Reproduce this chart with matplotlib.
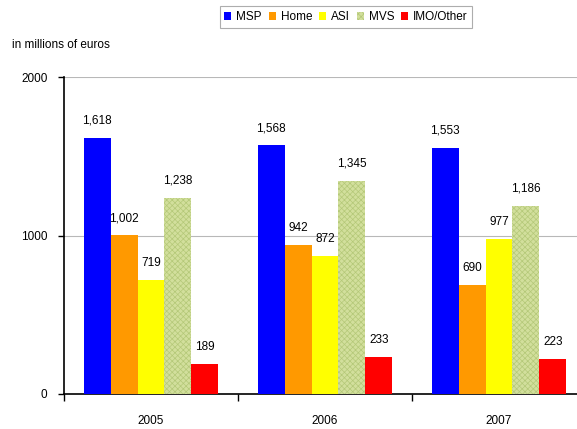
import matplotlib.pyplot as plt
import numpy as np

plt.rcParams['font.family'] = ['Liberation Sans Narrow', 'Liberation Sans', 'DejaVu Sans']
plt.rcParams['hatch.linewidth'] = 0.5

years = ['2005', '2006', '2007']
segments = ['MSP', 'Home', 'ASI', 'MVS', 'IMO/Other']
msp = [1618, 1568, 1553]
home = [1002, 942, 690]
asi = [719, 872, 977]
mvs = [1238, 1345, 1186]
imo = [189, 233, 223]
colors = ['#0000ff', '#ff9900', '#ffff00', '#d2df9c', '#ff0000']

series = [msp, home, asi, mvs, imo]

fig = plt.figure(figsize=(5.77, 4.29), dpi=100)
ax = fig.add_axes([64 / 577, 35 / 429, 522 / 577, 317 / 429])

x = np.arange(len(years))
w = 0.155
for i, (name, vals, c) in enumerate(zip(segments, series, colors)):
    pos = x + (i - 2) * w
    if name == 'MVS':
        bars = ax.bar(pos, vals, w, color=c, edgecolor='#b4c878', hatch='xxxxxx',
                      linewidth=0, label=name, zorder=3)
    else:
        bars = ax.bar(pos, vals, w, color=c, linewidth=0, label=name, zorder=3)
    for b, v in zip(bars, vals):
        ax.annotate(f'{v:,}', (b.get_x() + b.get_width() / 2, v),
                    xytext=(0, 8), textcoords='offset points',
                    ha='center', va='bottom', fontsize=8.5)

ax.set_ylim(0, 2000)
ax.set_xlim(-0.5, 2.5)
ax.set_yticks([0, 1000, 2000])
ax.set_yticklabels(['0', '1000', '2000'], fontsize=8.5)
ax.yaxis.grid(True, color='#b8b8b8', linewidth=0.8, zorder=0)

# group separators as major ticks, year labels on minor ticks
ax.set_xticks([-0.5, 0.5, 1.5, 2.5])
ax.set_xticklabels([])
ax.set_xticks(x, minor=True)
ax.set_xticklabels(years, minor=True, fontsize=8.5)
ax.tick_params(axis='x', which='major', direction='out', length=5, width=1)
ax.tick_params(axis='x', which='minor', length=0, pad=15)
ax.tick_params(axis='y', direction='out', length=4, width=1, pad=8)

for s in ['top', 'right']:
    ax.spines[s].set_visible(False)
for s in ['left', 'bottom']:
    ax.spines[s].set_linewidth(1.2)

fig.text(12 / 577, 1 - 45 / 429, 'in millions of euros', fontsize=8.5,
         ha='left', va='center')

leg = fig.legend(loc='center', bbox_to_anchor=(346 / 577, 1 - 17 / 429), ncol=5,
                 fontsize=8.5, frameon=True, fancybox=False, handlelength=0.6,
                 handleheight=0.6, handletextpad=0.4, columnspacing=0.6,
                 borderpad=0.4, edgecolor='#999999')
leg.get_frame().set_linewidth(0.8)

fig.savefig('out.png', dpi=100)
